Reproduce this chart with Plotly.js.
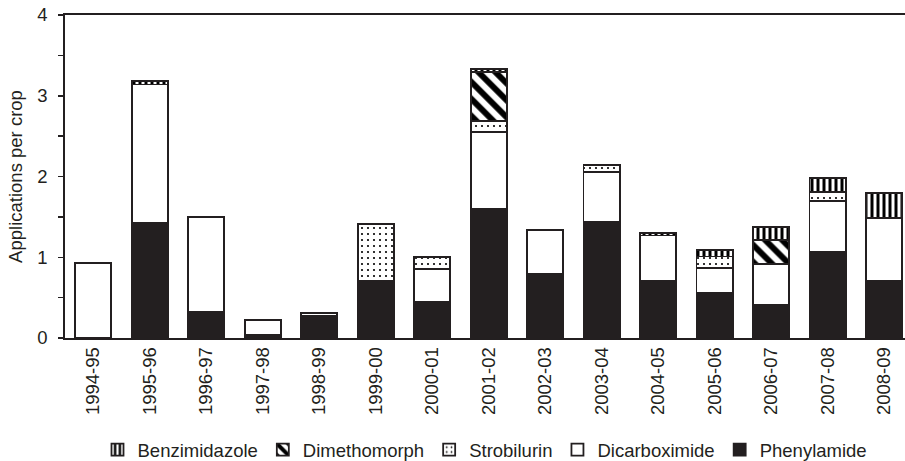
<!DOCTYPE html>
<html>
<head>
<meta charset="utf-8">
<script src="https://cdn.plot.ly/plotly-3.0.1.min.js"></script>
<style>html,body{margin:0;padding:0;background:#fff;}#chart{width:905px;height:461px;}</style>
</head>
<body>
<div id="chart"></div>
<script>
const seasons = ["1994-95","1995-96","1996-97","1997-98","1998-99","1999-00","2000-01","2001-02","2002-03","2003-04","2004-05","2005-06","2006-07","2007-08","2008-09"];
const phenylamide   = [null, 1.42, 0.32, 0.04, 0.27, 0.71, 0.45, 1.60, 0.80, 1.44, 0.71, 0.56, 0.41, 1.07, 0.71];
const dicarboximide = [0.93, 1.72, 1.18, 0.18, 0.04, null, 0.40, 0.95, 0.54, 0.62, 0.56, 0.31, 0.51, 0.63, 0.78];
const strobilurin   = [null, null, null, null, null, 0.70, 0.15, 0.14, null, 0.08, null, 0.14, null, 0.11, null];
const dimethomorph  = [null, null, null, null, null, null, null, 0.60, null, null, null, null, 0.29, null, null];
const benzimidazole = [null, 0.04, null, null, null, null, null, 0.04, null, null, 0.03, 0.08, 0.16, 0.17, 0.31];

const ink = '#231f20';
const line = {color: ink, width: 1.8};
function tr(name, y, pattern, fill) {
  return {
    type: 'bar', name: name, x: seasons, y: y, width: 0.64,
    marker: {color: fill, line: line, pattern: pattern},
    hoverinfo: 'skip'
  };
}
const data = [
  tr('Phenylamide', phenylamide, {shape: ''}, ink),
  tr('Dicarboximide', dicarboximide, {shape: ''}, '#ffffff'),
  tr('Strobilurin', strobilurin, {shape: '.', fgcolor: '#000000', bgcolor: '#ffffff', fgopacity: 1, size: 6, solidity: 0.1, fillmode: 'replace'}, '#ffffff'),
  tr('Dimethomorph', dimethomorph, {shape: '\\', fgcolor: '#000000', bgcolor: '#ffffff', fgopacity: 1, size: 12, solidity: 0.5, fillmode: 'replace'}, '#ffffff'),
  tr('Benzimidazole', benzimidazole, {shape: '|', fgcolor: '#000000', bgcolor: '#ffffff', fgopacity: 1, size: 6, solidity: 0.5, fillmode: 'replace'}, '#ffffff')
];

const font = {family: 'Liberation Sans, Arial, sans-serif', size: 18.5, color: ink};
const layout = {
  width: 905, height: 461,
  margin: {l: 65, r: 0, t: 15, b: 123, autoexpand: false},
  barmode: 'stack',
  bargap: 0.36,
  paper_bgcolor: '#ffffff', plot_bgcolor: '#ffffff',
  font: font,
  showlegend: true,
  legend: {orientation: 'h', x: 0.5, xanchor: 'center', y: -0.347, yanchor: 'middle', traceorder: 'reversed', font: font},
  xaxis: {
    type: 'category', range: [-0.5, 14.37], automargin: false,
    showline: true, mirror: true, linecolor: ink, linewidth: 1.8,
    ticks: '', tickangle: -90, showgrid: false, zeroline: false,
    tickfont: font, fixedrange: true
  },
  yaxis: {
    range: [0, 4], dtick: 1, tick0: 0, automargin: false,
    showline: true, linecolor: ink, linewidth: 1.8,
    ticks: 'outside', ticklen: 5, tickwidth: 1.5, tickcolor: ink,
    minor: {dtick: 0.5, ticks: 'outside', ticklen: 5, tickwidth: 1.5, tickcolor: ink},
    showgrid: false, zeroline: false,
    tickfont: font, ticklabelstandoff: 7,
    title: {text: 'Applications per crop', font: font, standoff: 10},
    fixedrange: true
  }
};
Plotly.newPlot('chart', data, layout, {displayModeBar: false, staticPlot: true});
</script>
</body>
</html>
